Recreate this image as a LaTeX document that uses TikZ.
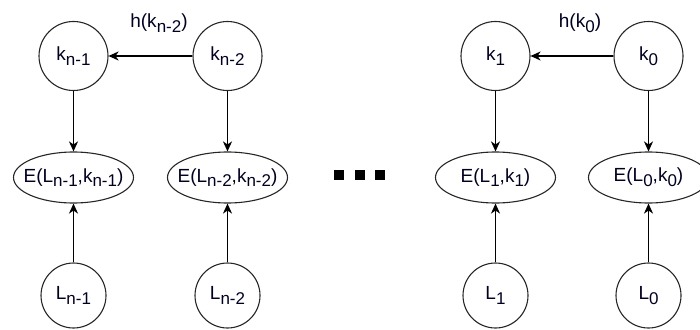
\documentclass[tikz,border=0pt]{standalone}
\usepackage{fontspec}
\setmainfont{Liberation Sans}
\usetikzlibrary{shapes.geometric,arrows.meta}
% lowered index, nearly full size
\newcommand{\lowidx}[1]{\raisebox{-0.25em}{\fontsize{17}{17}\selectfont #1}}
% label that does not widen its shape
\newcommand{\fixlabel}[1]{\makebox[0pt]{#1}}
\tikzset{
  every node/.style={font=\fontsize{19}{19}\selectfont, text=black!88!blue},
  keynode/.style={circle, draw=black!85, line width=1.1pt, minimum size=69pt, inner sep=0pt},
  plainnode/.style={circle, draw=black!85, line width=1.1pt, minimum size=65pt, inner sep=0pt},
  encnode/.style={ellipse, draw=black!85, line width=1.1pt, minimum width=120pt, minimum height=51pt, inner sep=0pt},
  link/.style={line width=1.4pt, -{Stealth[length=10pt, width=9pt, inset=3pt]}},
  dotsq/.style={fill=black, minimum size=10pt, inner sep=0pt}
}
\begin{document}
\begin{tikzpicture}[x=1pt, y=-1pt]
  \useasboundingbox (0,0) rectangle (700,329);

  % key chain
  \node[keynode] (kn1) at (73.5,56) {k\lowidx{n-1}};
  \node[keynode] (kn2) at (227.5,56) {k\lowidx{n-2}};
  \node[keynode] (k1) at (495.5,56) {k\lowidx{1}};
  \node[keynode] (k0) at (648.5,56) {k\lowidx{0}};

  % encryptions
  \node[encnode] (en1) at (73.5,177.5) {\fixlabel{E(L\lowidx{n-1},k\lowidx{n-1})}};
  \node[encnode] (en2) at (227.5,177.5) {\fixlabel{E(L\lowidx{n-2},k\lowidx{n-2})}};
  \node[encnode] (e1) at (495.5,177.5) {\fixlabel{E(L\lowidx{1},k\lowidx{1})}};
  \node[encnode] (e0) at (648.5,177.5) {\fixlabel{E(L\lowidx{0},k\lowidx{0})}};

  % plaintext blocks
  \node[plainnode] (ln1) at (73.5,295.5) {L\lowidx{n-1}};
  \node[plainnode] (ln2) at (227.5,295.5) {L\lowidx{n-2}};
  \node[plainnode] (l1) at (495.5,295.5) {L\lowidx{1}};
  \node[plainnode] (l0) at (648.5,295.5) {L\lowidx{0}};

  % ellipsis between the two halves
  \node[dotsq] (d1) at (339,175) {};
  \node[dotsq] (d2) at (360,175) {};
  \node[dotsq] (d3) at (380,175) {};

  % hash labels
  \node[anchor=base] (hn2) at (159,28) {h(k\lowidx{n-2})};
  \node[anchor=base] (h0) at (580,28) {h(k\lowidx{0})};

  % hash links
  \draw[link] (kn2) -- (kn1);
  \draw[link] (k0) -- (k1);

  % keys into encryptions
  \draw[link] (kn1) -- (en1);
  \draw[link] (kn2) -- (en2);
  \draw[link] (k1) -- (e1);
  \draw[link] (k0) -- (e0);

  % plaintexts into encryptions
  \draw[link] (ln1) -- (en1);
  \draw[link] (ln2) -- (en2);
  \draw[link] (l1) -- (e1);
  \draw[link] (l0) -- (e0);
\end{tikzpicture}
\end{document}
